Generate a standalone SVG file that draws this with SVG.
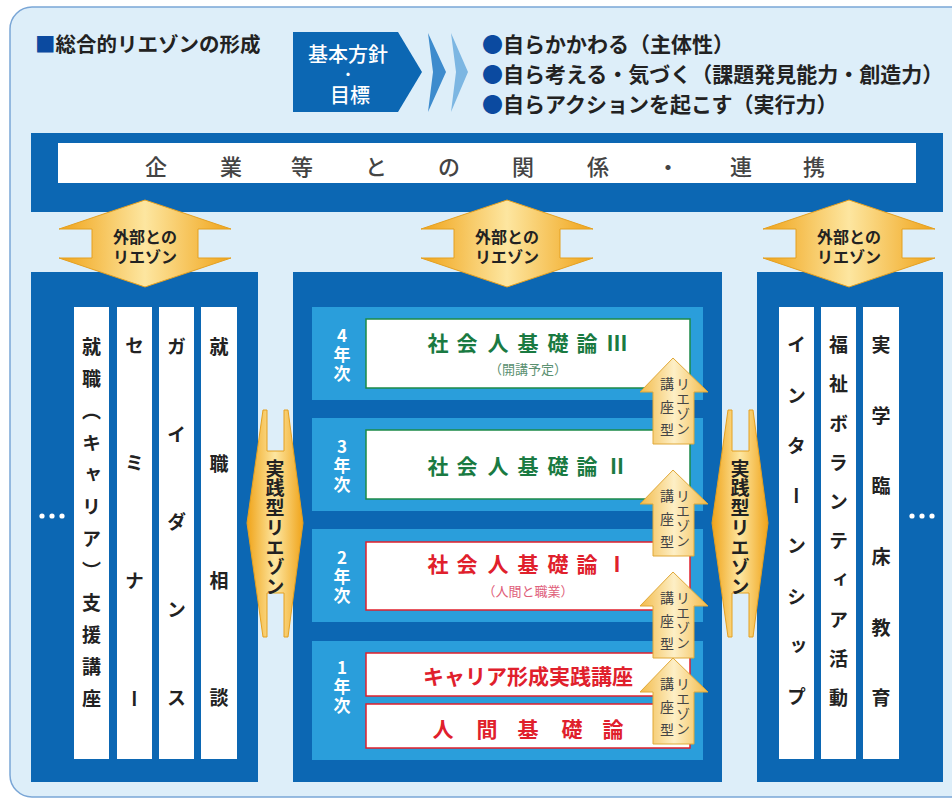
<svg xmlns="http://www.w3.org/2000/svg" width="952" height="807" viewBox="0 0 952 807">
<defs>
<style>
text{font-family:"Noto Sans CJK JP","Noto Sans",sans-serif;}
.dk{fill:#0c67b3;}
.pn{fill:#2a9edb;}
.wh{fill:#ffffff;}
.c{text-anchor:middle;dominant-baseline:central;}
.v{writing-mode:vertical-rl;font-weight:700;fill:#222;font-size:19px;}
.yr{fill:#fff;font-weight:700;font-size:17px;writing-mode:vertical-rl;text-orientation:upright;letter-spacing:2px;}
.gold{fill:url(#gGold);stroke:#e4a021;stroke-width:1;}
.pale{fill:url(#gPale);stroke:#e0a838;stroke-width:1;}
.lbl{font-weight:700;font-size:16px;fill:#222;}
.sm{font-size:14px;fill:#444;writing-mode:vertical-rl;}
</style>
<linearGradient id="gGold" x1="0" y1="0" x2="1" y2="0">
<stop offset="0" stop-color="#f0a41a"/>
<stop offset="0.5" stop-color="#fde6a0"/>
<stop offset="1" stop-color="#f0a41a"/>
</linearGradient>
<linearGradient id="gPale" x1="0" y1="0" x2="1" y2="0">
<stop offset="0" stop-color="#f3bb4a"/>
<stop offset="0.5" stop-color="#fdefc6"/>
<stop offset="1" stop-color="#f3bb4a"/>
</linearGradient>
</defs>
<rect x="0" y="0" width="952" height="807" fill="#ffffff"/>
<rect x="10" y="7" width="970" height="790" rx="22" fill="#ddeef9" stroke="#7aa6d6" stroke-width="1.5"/>

<g id="title">
<text x="35" y="43" font-size="20.5" font-weight="700" fill="#222" dominant-baseline="central"><tspan fill="#0b4aa0">■</tspan>総合的リエゾンの形成</text>
</g>

<g id="policy">
<polygon points="293,32 398,32 422,72 398,112 293,112" class="dk"/>
<text x="348" y="53" class="c" font-size="20" font-weight="500" fill="#fff">基本方針</text>
<text x="348" y="73" class="c" font-size="15" fill="#fff">・</text>
<text x="350" y="94" class="c" font-size="20" font-weight="500" fill="#fff">目標</text>
<polygon points="428,33 446,72 428,112 433,72" fill="#3d8bcd"/>
<polygon points="451,33 468,72 451,112 456,72" fill="#7cb6e2"/>
</g>

<g id="goals" font-size="21" font-weight="700" fill="#222">
<text x="482" y="43" dominant-baseline="central"><tspan fill="#0b4aa0">●</tspan>自らかかわる（主体性）</text>
<text x="482" y="73" dominant-baseline="central"><tspan fill="#0b4aa0">●</tspan>自ら考える・気づく（課題発見能力・創造力）</text>
<text x="482" y="103" dominant-baseline="central"><tspan fill="#0b4aa0">●</tspan>自らアクションを起こす（実行力）</text>
</g>

<g id="companies">
<rect x="31" y="133" width="912" height="79" class="dk"/>
<rect x="58" y="143" width="858" height="40" class="wh"/>
<text y="165" x="156 231 302 376 449 523 598 668 741 814" class="c" font-size="22" font-weight="500" fill="#444">企業等との関係・連携</text>
</g>

<g id="left-column">
<rect x="31" y="272" width="227" height="510" class="dk"/>
<rect x="74" y="307" width="35" height="452" class="wh"/>
<rect x="117" y="307" width="35" height="452" class="wh"/>
<rect x="159" y="307" width="35" height="452" class="wh"/>
<rect x="201" y="307" width="36" height="452" class="wh"/>
<text x="91.5" y="337" class="v" letter-spacing="13">就職（キャリア）支援講座</text>
<text x="134.5" y="336" class="v" letter-spacing="98.7">セミナー</text>
<text x="176.5" y="337" class="v" letter-spacing="68.8">ガイダンス</text>
<text x="219" y="337" class="v" letter-spacing="98">就職相談</text>
<circle cx="42" cy="516" r="2.6" class="wh"/>
<circle cx="52" cy="516" r="2.6" class="wh"/>
<circle cx="62" cy="516" r="2.6" class="wh"/>
</g>

<g id="middle-column">
<rect x="293" y="272" width="429" height="510" class="dk"/>
<rect x="312" y="307" width="391" height="93" class="pn"/>
<rect x="312" y="418" width="391" height="93" class="pn"/>
<rect x="312" y="529" width="391" height="93" class="pn"/>
<rect x="312" y="641" width="391" height="119" class="pn"/>
</g>

<g id="year4">
<text x="342" y="327.5" class="yr">4年次</text>
<rect x="366" y="319" width="324" height="69" fill="#fff" stroke="#1c8a48" stroke-width="1.5"/>
<text y="342" x="438 467 498 528 558 587 617" class="c" font-size="21" font-weight="700" fill="#1a7a42">社会人基礎論Ⅲ</text>
<text x="528" y="368" class="c" font-size="13" fill="#5a9070">（開講予定）</text>
</g>

<g id="year3">
<text x="342" y="438.5" class="yr">3年次</text>
<rect x="366" y="430" width="324" height="69" fill="#fff" stroke="#1c8a48" stroke-width="1.5"/>
<text y="465" x="438 467 498 528 558 587 617" class="c" font-size="21" font-weight="700" fill="#1a7a42">社会人基礎論Ⅱ</text>
</g>

<g id="year2">
<text x="342" y="549.5" class="yr">2年次</text>
<rect x="366" y="542" width="324" height="68" fill="#fff" stroke="#e0202c" stroke-width="1.5"/>
<text y="563" x="438 467 498 528 558 587 617" class="c" font-size="21" font-weight="700" fill="#e0202c">社会人基礎論Ⅰ</text>
<text x="528" y="590" class="c" font-size="13" fill="#e0607a">（人間と職業）</text>
</g>

<g id="year1">
<text x="342" y="659.5" class="yr">1年次</text>
<rect x="366" y="653" width="324" height="43" fill="#fff" stroke="#e0202c" stroke-width="1.5"/>
<text x="528" y="675" class="c" font-size="21" font-weight="700" fill="#e0202c">キャリア形成実践講座</text>
<rect x="366" y="704" width="324" height="44" fill="#fff" stroke="#e0202c" stroke-width="1.5"/>
<text y="728" x="443 487 528 572 613" class="c" font-size="21" font-weight="700" fill="#e0202c">人間基礎論</text>
</g>

<g id="right-column">
<rect x="757" y="272" width="186" height="510" class="dk"/>
<rect x="779" y="307" width="35" height="452" class="wh"/>
<rect x="821" y="307" width="35" height="452" class="wh"/>
<rect x="863" y="307" width="36" height="452" class="wh"/>
<text x="796.5" y="335.5" class="v" letter-spacing="31.3">インターンシップ</text>
<text x="838.5" y="335.5" class="v" letter-spacing="20.2">福祉ボランティア活動</text>
<text x="881" y="335.5" class="v" letter-spacing="51.6">実学臨床教育</text>
<circle cx="912" cy="516" r="2.6" class="wh"/>
<circle cx="922" cy="516" r="2.6" class="wh"/>
<circle cx="932" cy="516" r="2.6" class="wh"/>
</g>

<g id="connectors">
<g id="ext-left">
<polygon class="gold" points="145,200 231,229 198,229 198,258 231,258 145,287 59,258 92,258 92,229 59,229"/>
<text x="145" y="236" class="c lbl">外部との</text>
<text x="145" y="256" class="c lbl">リエゾン</text>
</g>
<g id="ext-mid">
<polygon class="gold" points="507,200 593,229 560,229 560,258 593,258 507,287 421,258 454,258 454,229 421,229"/>
<text x="507" y="236" class="c lbl">外部との</text>
<text x="507" y="256" class="c lbl">リエゾン</text>
</g>
<g id="ext-right">
<polygon class="gold" points="849,200 935,229 902,229 902,258 935,258 849,287 763,258 796,258 796,229 763,229"/>
<text x="849" y="236" class="c lbl">外部との</text>
<text x="849" y="256" class="c lbl">リエゾン</text>
</g>
<g id="practice-left">
<polygon class="gold" points="263,410 267,410 267,451 284,451 284,410 288,410 303,523 288,637 284,637 284,593 267,593 267,637 263,637 247,523"/>
<text x="275" y="459" class="v" font-size="18" letter-spacing="0.7">実践型リエゾン</text>
</g>
<g id="practice-right">
<polygon class="gold" points="728,410 732,410 732,451 749,451 749,410 753,410 768,523 753,637 749,637 749,593 732,593 732,637 728,637 712,523"/>
<text x="740" y="459" class="v" font-size="18" letter-spacing="0.7">実践型リエゾン</text>
</g>
<g id="course-1">
<polygon class="pale" points="673,358 708,392 694,392 694,444 653,444 653,392 640,392"/>
<text x="667" y="377" class="sm" letter-spacing="9">講座型</text>
<text x="683" y="377" class="sm" letter-spacing="1">リエゾン</text>
</g>
<g id="course-2">
<polygon class="pale" points="673,470 708,504 694,504 694,556 653,556 653,504 640,504"/>
<text x="667" y="489" class="sm" letter-spacing="9">講座型</text>
<text x="683" y="489" class="sm" letter-spacing="1">リエゾン</text>
</g>
<g id="course-3">
<polygon class="pale" points="673,572 708,606 694,606 694,658 653,658 653,606 640,606"/>
<text x="667" y="591" class="sm" letter-spacing="9">講座型</text>
<text x="683" y="591" class="sm" letter-spacing="1">リエゾン</text>
</g>
<g id="course-4">
<polygon class="pale" points="673,658 708,692 694,692 694,744 653,744 653,692 640,692"/>
<text x="667" y="677" class="sm" letter-spacing="9">講座型</text>
<text x="683" y="677" class="sm" letter-spacing="1">リエゾン</text>
</g>
</g>
</svg>
